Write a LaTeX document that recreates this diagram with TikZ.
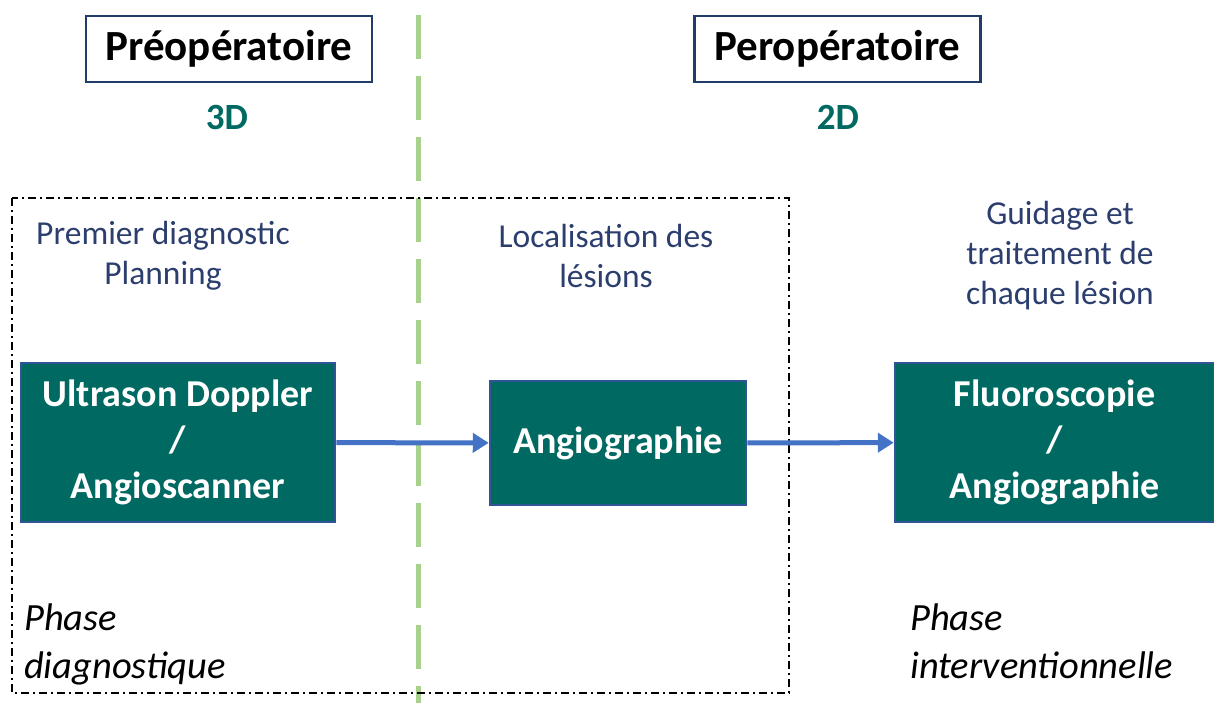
\documentclass[tikz,border=0pt]{standalone}
\usepackage{fontspec}
\setmainfont{Carlito}
\usetikzlibrary{arrows.meta,positioning}
\definecolor{teal}{RGB}{0,105,98}
\definecolor{navyedge}{RGB}{47,85,151}
\definecolor{navytext}{RGB}{44,62,110}
\definecolor{arrowblue}{RGB}{68,114,196}
\definecolor{lightgreen}{RGB}{169,209,142}
\begin{document}
\begin{tikzpicture}[
    x=1pt, y=-1pt,
    header/.style = {draw=navyedge!70!black, line width=2.2pt, fill=white, inner sep=0pt,
        minimum width=286, minimum height=66,
        font=\fontsize{43}{48}\selectfont\bfseries},
    dim/.style = {text=teal, font=\fontsize{37}{40}\selectfont\bfseries},
    purpose/.style = {text=navytext, align=center,
        font=\fontsize{33.5}{40}\selectfont},
    modality/.style = {draw=navyedge, line width=2.5pt, fill=teal, text=white,
        align=center, inner sep=0pt,
        font=\fontsize{38}{46}\selectfont\bfseries},
    phase/.style = {align=left, anchor=north west, inner sep=0pt,
        font=\fontsize{38.5}{48}\selectfont\itshape},
    flow/.style = {draw=arrowblue, line width=5pt,
        -{Triangle[length=16pt,width=19pt]}}
     ]
  \useasboundingbox (0,0) rectangle (1214,703);
  % separation pre/per
  \draw[lightgreen, line width=5pt, dash pattern=on 44pt off 17pt] (418,15) -- (418,703);
  \draw[line width=1.6pt, dash pattern=on 8pt off 4pt on 2pt off 4pt] (12,198) rectangle (789,693);
  % headers
  \node[header] (pre) at (229,49) {Préopératoire};
  \node[header] (per) at (837.5,49) {Peropératoire};
  \node[dim] (d3) at (227,117) {3D};
  \node[dim] (d2) at (838,117) {2D};
  % purposes
  \node[purpose] (diag) at (163,256) {Premier diagnostic\\Planning};
  \node[purpose] (loc) at (606,256) {Localisation des\\lésions};
  \node[purpose] (guid) at (1060,256) {Guidage et\\traitement de\\chaque lésion};
  % modalities
  \node[modality, minimum width=314, minimum height=159] (us) at (178,442.5)
    {Ultrason Doppler\\/\\Angioscanner};
  \node[modality, minimum width=256, minimum height=124] (angio) at (618,443)
    {Angiographie};
  \node[modality, minimum width=319, minimum height=159] (fluoro) at (1054.5,442.5)
    {Fluoroscopie\\/\\Angiographie};
  \draw[flow] (us) -- (angio);
  \draw[flow] (angio) -- (fluoro);
  % phases
  \node[phase] (pdiag) at (24,604) {Phase\\diagnostique};
  \node[phase] (pint) at (910,604) {Phase\\interventionnelle};
\end{tikzpicture}
\end{document}
